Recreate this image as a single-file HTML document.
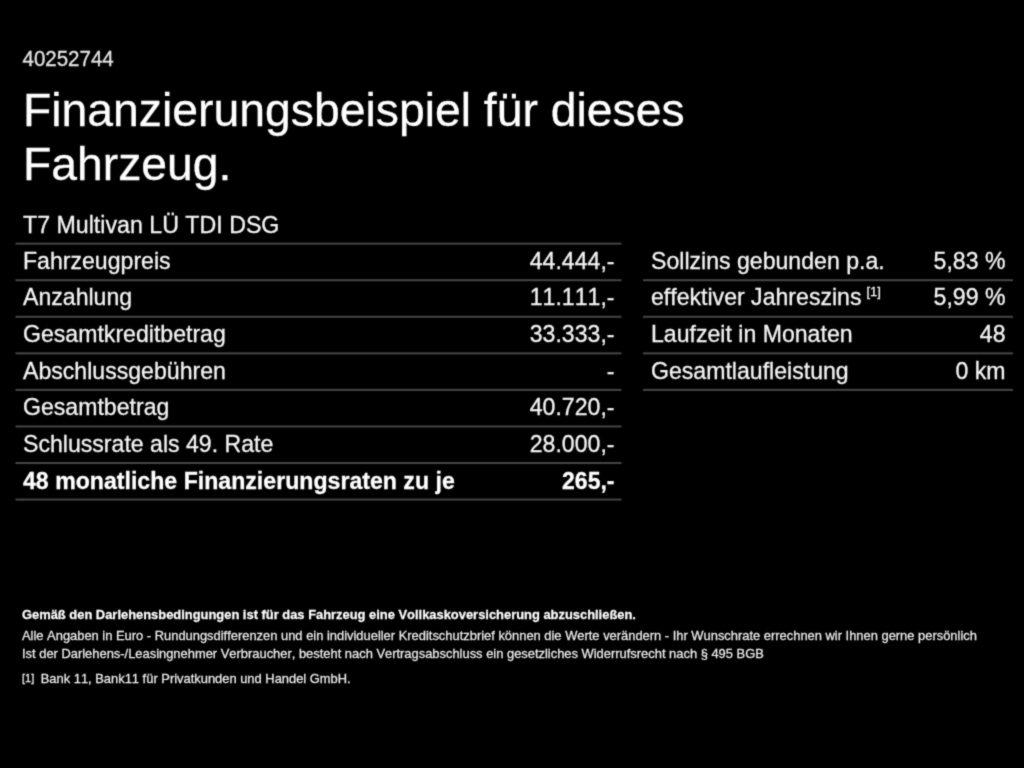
<!DOCTYPE html>
<html lang="de">
<head>
<meta charset="utf-8">
<title>Finanzierungsbeispiel</title>
<style>
html,body{margin:0;padding:0;background:#000;}
body{width:1024px;height:768px;overflow:hidden;position:relative;color:#fff;font-family:"Liberation Sans",Arial,Helvetica,sans-serif;font-kerning:none;-webkit-text-stroke:0.3px currentColor;}
#wrap{position:absolute;left:0;top:0;width:1024px;height:768px;overflow:hidden;filter:url(#soft);}
.abs{position:absolute;white-space:nowrap;margin:0;transform:scaleY(1.01);transform-origin:0 50%;}
.lines{position:absolute;left:0;top:0;}
#id{transform:scaleY(1.043);left:22.5px;top:46.5px;font-size:20.5px;line-height:24px;color:#e4e4e4;}
h1{left:22.9px;top:83.8px;font-size:46.33px;line-height:53.1px;font-weight:normal;color:#fff;-webkit-text-stroke:0.3px currentColor;}
#model{transform:scaleY(1.035);left:23px;top:210.6px;font-size:23.2px;line-height:28px;color:#f4f4f4;}
.row{position:absolute;height:36px;font-size:23.1px;line-height:36px;color:#f4f4f4;}
.row .l{position:absolute;left:8px;top:0;white-space:nowrap;transform:scaleY(1.01);transform-origin:0 50%;}
.row .v{font-kerning:none;position:absolute;right:6.5px;top:0;white-space:nowrap;transform:scaleY(1.043);transform-origin:100% 50%;}
.row.t2 .v{right:7.5px;}
.row.b{font-weight:bold;color:#fff;font-size:23px;}
.row.b .l{font-size:23.13px;}
sup.fn{font-size:13px;vertical-align:baseline;position:relative;top:-9px;margin-left:5px;line-height:0;}
.foot{left:22px;font-size:12.92px;line-height:16px;color:#eee;-webkit-text-stroke:0.25px currentColor;}
</style>
</head>
<body>
<svg width="0" height="0" style="position:absolute" aria-hidden="true"><defs><filter id="soft" x="0" y="0" width="100%" height="100%" color-interpolation-filters="sRGB"><feConvolveMatrix order="3" kernelMatrix="0.03 0.1 0.03 0.1 0.48 0.1 0.03 0.1 0.03" divisor="1" edgeMode="duplicate" preserveAlpha="false"/></filter></defs></svg>
<div id="wrap">
<svg class="lines" width="1024" height="768" viewBox="0 0 1024 768" aria-hidden="true">
<rect x="15.5" y="242.66" width="606" height="2" fill="#464646"/>
<rect x="15.5" y="279.22" width="606" height="2" fill="#464646"/>
<rect x="15.5" y="315.78" width="606" height="2" fill="#464646"/>
<rect x="15.5" y="352.34" width="606" height="2" fill="#464646"/>
<rect x="15.5" y="388.90" width="606" height="2" fill="#464646"/>
<rect x="15.5" y="425.46" width="606" height="2" fill="#464646"/>
<rect x="15.5" y="462.02" width="606" height="2" fill="#464646"/>
<rect x="15.5" y="498.58" width="606" height="2" fill="#464646"/>
<rect x="643" y="279.22" width="370" height="2" fill="#464646"/>
<rect x="643" y="315.78" width="370" height="2" fill="#464646"/>
<rect x="643" y="352.34" width="370" height="2" fill="#464646"/>
<rect x="643" y="388.90" width="370" height="2" fill="#464646"/>
</svg>
<div class="abs" id="id">40252744</div>
<h1 class="abs">Finanzierungsbeispiel für dieses<br><span style="position:relative;top:0.55px">Fahrzeug.</span></h1>
<div class="abs" id="model">T7 Multivan LÜ TDI DSG</div>
<div class="row" style="left:15px;width:606px;top:242.71px"><span class="l">Fahrzeugpreis</span><span class="v">44.444,-</span></div>
<div class="row" style="left:15px;width:606px;top:279.27px"><span class="l">Anzahlung</span><span class="v">11.111,-</span></div>
<div class="row" style="left:15px;width:606px;top:315.83px"><span class="l">Gesamtkreditbetrag</span><span class="v">33.333,-</span></div>
<div class="row" style="left:15px;width:606px;top:352.99px"><span class="l">Abschlussgebühren</span><span class="v">-</span></div>
<div class="row" style="left:15px;width:606px;top:388.95px"><span class="l">Gesamtbetrag</span><span class="v">40.720,-</span></div>
<div class="row" style="left:15px;width:606px;top:425.51px"><span class="l">Schlussrate als 49. Rate</span><span class="v">28.000,-</span></div>
<div class="row b" style="left:15px;width:606px;top:462.67px"><span class="l">48 monatliche Finanzierungsraten zu je</span><span class="v">265,-</span></div>
<div class="row t2" style="left:643px;width:370px;top:242.71px"><span class="l">Sollzins gebunden p.a.</span><span class="v">5,83 %</span></div>
<div class="row t2" style="left:643px;width:370px;top:279.27px"><span class="l">effektiver Jahreszins<sup class="fn">[1]</sup></span><span class="v">5,99 %</span></div>
<div class="row t2" style="left:643px;width:370px;top:315.83px"><span class="l">Laufzeit in Monaten</span><span class="v">48</span></div>
<div class="row t2" style="left:643px;width:370px;top:352.99px"><span class="l">Gesamtlaufleistung</span><span class="v">0 km</span></div>
<div class="abs foot" style="top:606.75px;font-weight:bold;color:#fff;">Gemäß den Darlehensbedingungen ist für das Fahrzeug eine Vollkaskoversicherung abzuschließen.</div>
<div class="abs foot" style="top:627.9px;">Alle Angaben in Euro - Rundungsdifferenzen und ein individueller Kreditschutzbrief können die Werte verändern - Ihr Wunschrate errechnen wir Ihnen gerne persönlich</div>
<div class="abs foot" style="top:646.2px;">Ist der Darlehens-/Leasingnehmer Verbraucher, besteht nach Vertragsabschluss ein gesetzliches Widerrufsrecht nach § 495 BGB</div>
<div class="abs foot" style="top:671.3px;"><span style="font-size:11px;position:relative;top:-1px;">[1]</span><span style="margin-left:6.5px">Bank 11, Bank11 für Privatkunden und Handel GmbH.</span></div>
</div>
</body>
</html>
